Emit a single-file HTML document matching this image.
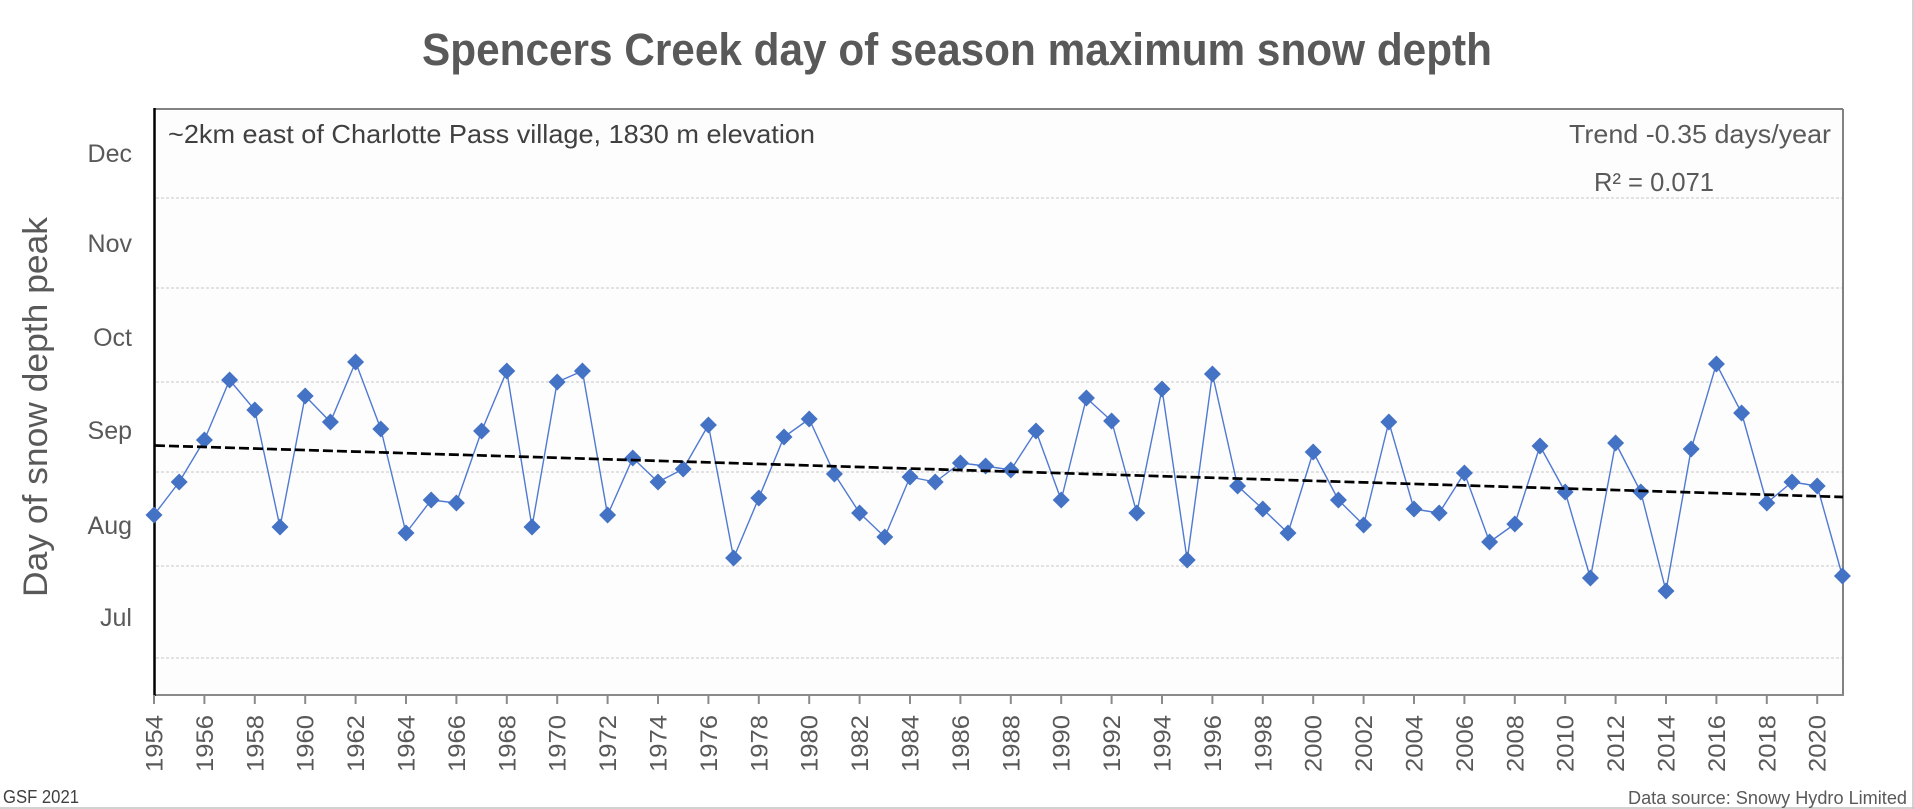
<!DOCTYPE html>
<html>
<head>
<meta charset="utf-8">
<style>
  html, body { margin: 0; padding: 0; background: #ffffff; }
  svg { display: block; }
  text { font-family: "Liberation Sans", Arial, sans-serif; }
</style>
</head>
<body>
<svg width="1914" height="809" viewBox="0 0 1914 809" xmlns="http://www.w3.org/2000/svg">
  <defs>
    <path id="d" d="M0,-8.5 L8.5,0 L0,8.5 L-8.5,0 Z" fill="#4472C4"/>
  </defs>
  <rect x="0" y="0" width="1914" height="809" fill="#ffffff"/>
  <!-- outer border right & bottom -->
  <line x1="1913" y1="0" x2="1913" y2="809" stroke="#c4c4c4" stroke-width="1.5"/>
  <line x1="0" y1="808" x2="1914" y2="808" stroke="#c4c4c4" stroke-width="1.5"/>

  <!-- Title -->
  <text x="957" y="65" text-anchor="middle" font-size="45" font-weight="bold" fill="#595959" textLength="1070" lengthAdjust="spacingAndGlyphs">Spencers Creek day of season maximum snow depth</text>

  <!-- Plot area -->
  <rect x="154" y="109" width="1689" height="586" fill="#fdfdfd" stroke="none"/>
  <!-- gridlines -->
  <g stroke="#c6c6c6" stroke-width="1" stroke-dasharray="3,2">
    <line x1="156" y1="198" x2="1843" y2="198"/>
    <line x1="156" y1="288" x2="1843" y2="288"/>
    <line x1="156" y1="382" x2="1843" y2="382"/>
    <line x1="156" y1="472" x2="1843" y2="472"/>
    <line x1="156" y1="566" x2="1843" y2="566"/>
    <line x1="156" y1="658" x2="1843" y2="658"/>
  </g>
  <!-- frame -->
  <line x1="154" y1="109" x2="1843" y2="109" stroke="#828282" stroke-width="2"/>
  <line x1="1843" y1="109" x2="1843" y2="696" stroke="#828282" stroke-width="2"/>
  <line x1="154" y1="695" x2="1844" y2="695" stroke="#8a8a8a" stroke-width="2"/>
  <line x1="154.5" y1="108" x2="154.5" y2="696" stroke="#000000" stroke-width="2.5"/>

  <!-- x ticks -->
  <g stroke="#8a8a8a" stroke-width="2">
    <line x1="154" y1="695" x2="154" y2="704"/><line x1="204.4" y1="695" x2="204.4" y2="704"/><line x1="254.8" y1="695" x2="254.8" y2="704"/><line x1="305.2" y1="695" x2="305.2" y2="704"/><line x1="355.6" y1="695" x2="355.6" y2="704"/><line x1="406" y1="695" x2="406" y2="704"/><line x1="456.4" y1="695" x2="456.4" y2="704"/><line x1="506.8" y1="695" x2="506.8" y2="704"/><line x1="557.2" y1="695" x2="557.2" y2="704"/><line x1="607.6" y1="695" x2="607.6" y2="704"/><line x1="658" y1="695" x2="658" y2="704"/><line x1="708.4" y1="695" x2="708.4" y2="704"/><line x1="758.8" y1="695" x2="758.8" y2="704"/><line x1="809.2" y1="695" x2="809.2" y2="704"/><line x1="859.6" y1="695" x2="859.6" y2="704"/><line x1="910" y1="695" x2="910" y2="704"/><line x1="960.4" y1="695" x2="960.4" y2="704"/><line x1="1010.8" y1="695" x2="1010.8" y2="704"/><line x1="1061.2" y1="695" x2="1061.2" y2="704"/><line x1="1111.6" y1="695" x2="1111.6" y2="704"/><line x1="1162" y1="695" x2="1162" y2="704"/><line x1="1212.4" y1="695" x2="1212.4" y2="704"/><line x1="1262.8" y1="695" x2="1262.8" y2="704"/><line x1="1313.2" y1="695" x2="1313.2" y2="704"/><line x1="1363.6" y1="695" x2="1363.6" y2="704"/><line x1="1414" y1="695" x2="1414" y2="704"/><line x1="1464.4" y1="695" x2="1464.4" y2="704"/><line x1="1514.8" y1="695" x2="1514.8" y2="704"/><line x1="1565.2" y1="695" x2="1565.2" y2="704"/><line x1="1615.6" y1="695" x2="1615.6" y2="704"/><line x1="1666" y1="695" x2="1666" y2="704"/><line x1="1716.4" y1="695" x2="1716.4" y2="704"/><line x1="1766.8" y1="695" x2="1766.8" y2="704"/><line x1="1817.2" y1="695" x2="1817.2" y2="704"/>
  </g>

  <!-- x labels -->
  <g font-size="24" fill="#595959" text-anchor="end">
    <text transform="translate(162.5,715) rotate(-90)" textLength="57" lengthAdjust="spacingAndGlyphs">1954</text>
    <text transform="translate(212.9,715) rotate(-90)" textLength="57" lengthAdjust="spacingAndGlyphs">1956</text>
    <text transform="translate(263.3,715) rotate(-90)" textLength="57" lengthAdjust="spacingAndGlyphs">1958</text>
    <text transform="translate(313.7,715) rotate(-90)" textLength="57" lengthAdjust="spacingAndGlyphs">1960</text>
    <text transform="translate(364.1,715) rotate(-90)" textLength="57" lengthAdjust="spacingAndGlyphs">1962</text>
    <text transform="translate(414.5,715) rotate(-90)" textLength="57" lengthAdjust="spacingAndGlyphs">1964</text>
    <text transform="translate(464.9,715) rotate(-90)" textLength="57" lengthAdjust="spacingAndGlyphs">1966</text>
    <text transform="translate(515.3,715) rotate(-90)" textLength="57" lengthAdjust="spacingAndGlyphs">1968</text>
    <text transform="translate(565.7,715) rotate(-90)" textLength="57" lengthAdjust="spacingAndGlyphs">1970</text>
    <text transform="translate(616.1,715) rotate(-90)" textLength="57" lengthAdjust="spacingAndGlyphs">1972</text>
    <text transform="translate(666.5,715) rotate(-90)" textLength="57" lengthAdjust="spacingAndGlyphs">1974</text>
    <text transform="translate(716.9,715) rotate(-90)" textLength="57" lengthAdjust="spacingAndGlyphs">1976</text>
    <text transform="translate(767.3,715) rotate(-90)" textLength="57" lengthAdjust="spacingAndGlyphs">1978</text>
    <text transform="translate(817.7,715) rotate(-90)" textLength="57" lengthAdjust="spacingAndGlyphs">1980</text>
    <text transform="translate(868.1,715) rotate(-90)" textLength="57" lengthAdjust="spacingAndGlyphs">1982</text>
    <text transform="translate(918.5,715) rotate(-90)" textLength="57" lengthAdjust="spacingAndGlyphs">1984</text>
    <text transform="translate(968.9,715) rotate(-90)" textLength="57" lengthAdjust="spacingAndGlyphs">1986</text>
    <text transform="translate(1019.3,715) rotate(-90)" textLength="57" lengthAdjust="spacingAndGlyphs">1988</text>
    <text transform="translate(1069.7,715) rotate(-90)" textLength="57" lengthAdjust="spacingAndGlyphs">1990</text>
    <text transform="translate(1120.1,715) rotate(-90)" textLength="57" lengthAdjust="spacingAndGlyphs">1992</text>
    <text transform="translate(1170.5,715) rotate(-90)" textLength="57" lengthAdjust="spacingAndGlyphs">1994</text>
    <text transform="translate(1220.9,715) rotate(-90)" textLength="57" lengthAdjust="spacingAndGlyphs">1996</text>
    <text transform="translate(1271.3,715) rotate(-90)" textLength="57" lengthAdjust="spacingAndGlyphs">1998</text>
    <text transform="translate(1321.7,715) rotate(-90)" textLength="57" lengthAdjust="spacingAndGlyphs">2000</text>
    <text transform="translate(1372.1,715) rotate(-90)" textLength="57" lengthAdjust="spacingAndGlyphs">2002</text>
    <text transform="translate(1422.5,715) rotate(-90)" textLength="57" lengthAdjust="spacingAndGlyphs">2004</text>
    <text transform="translate(1472.9,715) rotate(-90)" textLength="57" lengthAdjust="spacingAndGlyphs">2006</text>
    <text transform="translate(1523.3,715) rotate(-90)" textLength="57" lengthAdjust="spacingAndGlyphs">2008</text>
    <text transform="translate(1573.7,715) rotate(-90)" textLength="57" lengthAdjust="spacingAndGlyphs">2010</text>
    <text transform="translate(1624.1,715) rotate(-90)" textLength="57" lengthAdjust="spacingAndGlyphs">2012</text>
    <text transform="translate(1674.5,715) rotate(-90)" textLength="57" lengthAdjust="spacingAndGlyphs">2014</text>
    <text transform="translate(1724.9,715) rotate(-90)" textLength="57" lengthAdjust="spacingAndGlyphs">2016</text>
    <text transform="translate(1775.3,715) rotate(-90)" textLength="57" lengthAdjust="spacingAndGlyphs">2018</text>
    <text transform="translate(1825.7,715) rotate(-90)" textLength="57" lengthAdjust="spacingAndGlyphs">2020</text>
  </g>

  <!-- y labels -->
  <g font-size="25" fill="#595959" text-anchor="end">
    <text x="132" y="162">Dec</text>
    <text x="132" y="252">Nov</text>
    <text x="132" y="346">Oct</text>
    <text x="132" y="439">Sep</text>
    <text x="132" y="534">Aug</text>
    <text x="132" y="626">Jul</text>
  </g>

  <!-- y axis title -->
  <text transform="translate(47,407) rotate(-90)" text-anchor="middle" font-size="34" fill="#595959" textLength="380" lengthAdjust="spacingAndGlyphs">Day of snow depth peak</text>

  <!-- annotations -->
  <text x="168" y="143" font-size="26" fill="#404040" textLength="647" lengthAdjust="spacingAndGlyphs">~2km east of Charlotte Pass village, 1830 m elevation</text>
  <text x="1569" y="143" font-size="26" fill="#595959" textLength="262" lengthAdjust="spacingAndGlyphs">Trend -0.35 days/year</text>
  <text x="1594" y="191" font-size="26" fill="#595959" textLength="120" lengthAdjust="spacingAndGlyphs">R² = 0.071</text>

  <!-- data line -->
  <polyline fill="none" stroke="#5079D2" stroke-width="1.4" stroke-linejoin="round" points="154,515 179.2,482 204.4,440 229.6,380 254.8,410 280,527 305.2,396 330.4,422 355.6,362 380.8,429 406,533 431.2,500 456.4,503 481.6,431 506.8,371 532,527 557.2,382 582.4,371 607.6,515 632.8,458 658,482 683.2,469 708.4,425 733.6,558 758.8,498 784,437 809.2,419 834.4,474 859.6,513 884.8,537 910,477 935.2,482 960.4,463 985.6,466 1010.8,470 1036,431 1061.2,500 1086.4,398 1111.6,421 1136.8,513 1162,389 1187.2,560 1212.4,374 1237.6,486 1262.8,509 1288,533 1313.2,452 1338.4,500 1363.6,525 1388.8,422 1414,509 1439.2,513 1464.4,473 1489.6,542 1514.8,524 1540,446 1565.2,492 1590.4,578 1615.6,443 1640.8,492 1666,591 1691.2,449 1716.4,364 1741.6,413 1766.8,503 1792,482 1817.2,486 1842.4,576"/>

  <!-- markers -->
  <g>
    <use href="#d" x="154" y="515"/><use href="#d" x="179.2" y="482"/><use href="#d" x="204.4" y="440"/><use href="#d" x="229.6" y="380"/><use href="#d" x="254.8" y="410"/><use href="#d" x="280" y="527"/><use href="#d" x="305.2" y="396"/><use href="#d" x="330.4" y="422"/><use href="#d" x="355.6" y="362"/><use href="#d" x="380.8" y="429"/><use href="#d" x="406" y="533"/><use href="#d" x="431.2" y="500"/><use href="#d" x="456.4" y="503"/><use href="#d" x="481.6" y="431"/><use href="#d" x="506.8" y="371"/><use href="#d" x="532" y="527"/><use href="#d" x="557.2" y="382"/><use href="#d" x="582.4" y="371"/><use href="#d" x="607.6" y="515"/><use href="#d" x="632.8" y="458"/><use href="#d" x="658" y="482"/><use href="#d" x="683.2" y="469"/><use href="#d" x="708.4" y="425"/><use href="#d" x="733.6" y="558"/><use href="#d" x="758.8" y="498"/><use href="#d" x="784" y="437"/><use href="#d" x="809.2" y="419"/><use href="#d" x="834.4" y="474"/><use href="#d" x="859.6" y="513"/><use href="#d" x="884.8" y="537"/><use href="#d" x="910" y="477"/><use href="#d" x="935.2" y="482"/><use href="#d" x="960.4" y="463"/><use href="#d" x="985.6" y="466"/><use href="#d" x="1010.8" y="470"/><use href="#d" x="1036" y="431"/><use href="#d" x="1061.2" y="500"/><use href="#d" x="1086.4" y="398"/><use href="#d" x="1111.6" y="421"/><use href="#d" x="1136.8" y="513"/><use href="#d" x="1162" y="389"/><use href="#d" x="1187.2" y="560"/><use href="#d" x="1212.4" y="374"/><use href="#d" x="1237.6" y="486"/><use href="#d" x="1262.8" y="509"/><use href="#d" x="1288" y="533"/><use href="#d" x="1313.2" y="452"/><use href="#d" x="1338.4" y="500"/><use href="#d" x="1363.6" y="525"/><use href="#d" x="1388.8" y="422"/><use href="#d" x="1414" y="509"/><use href="#d" x="1439.2" y="513"/><use href="#d" x="1464.4" y="473"/><use href="#d" x="1489.6" y="542"/><use href="#d" x="1514.8" y="524"/><use href="#d" x="1540" y="446"/><use href="#d" x="1565.2" y="492"/><use href="#d" x="1590.4" y="578"/><use href="#d" x="1615.6" y="443"/><use href="#d" x="1640.8" y="492"/><use href="#d" x="1666" y="591"/><use href="#d" x="1691.2" y="449"/><use href="#d" x="1716.4" y="364"/><use href="#d" x="1741.6" y="413"/><use href="#d" x="1766.8" y="503"/><use href="#d" x="1792" y="482"/><use href="#d" x="1817.2" y="486"/><use href="#d" x="1842.4" y="576"/>
  </g>

  <!-- trend line -->
  <line x1="155" y1="445.5" x2="1843" y2="497" stroke="#000000" stroke-width="2.7" stroke-dasharray="10,4"/>

  <!-- footer -->
  <text x="3" y="803" font-size="18" fill="#404040" textLength="76" lengthAdjust="spacingAndGlyphs">GSF 2021</text>
  <text x="1907" y="804" font-size="18.5" fill="#595959" text-anchor="end" textLength="279" lengthAdjust="spacingAndGlyphs">Data source: Snowy Hydro Limited</text>
</svg>
</body>
</html>
